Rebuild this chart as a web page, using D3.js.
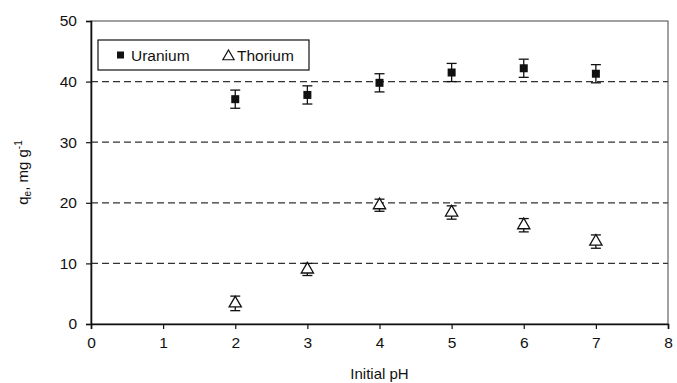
<!DOCTYPE html>
<html><head><meta charset="utf-8">
<script src="https://cdn.jsdelivr.net/npm/d3@7"></script>
<style>body{margin:0;background:#fff}svg{display:block;font-family:"Liberation Sans",Arial,sans-serif}</style>
</head><body><svg width="677" height="383"></svg>
<script>
const phValues = [2, 3, 4, 5, 6, 7];
const uranium = [37.1, 37.8, 39.8, 41.5, 42.2, 41.3];
const uraniumErr = [1.5, 1.5, 1.5, 1.5, 1.5, 1.5];
const thorium = [3.4, 9.0, 19.6, 18.4, 16.3, 13.6];
const thoriumErr = [1.2, 1.0, 1.0, 1.1, 1.1, 1.1];
const xTicks = [0, 1, 2, 3, 4, 5, 6, 7, 8];
const yTicks = [0, 10, 20, 30, 40, 50];
const gridValues = [10, 20, 30, 40];

const svg = d3.select("svg");
const L = 91, R = 668, T = 21, B = 324;
const x = d3.scaleLinear().domain([0, 8]).range([L, R]);
const y = d3.scaleLinear().domain([0, 50]).range([B, T]);

// grid
svg.append("g").selectAll("line").data(gridValues).join("line")
  .attr("x1", L).attr("x2", R).attr("y1", d => y(d)).attr("y2", d => y(d))
  .attr("stroke", "#333").attr("stroke-width", 1.2).attr("stroke-dasharray", "7,4");

// frame
svg.append("rect").attr("x", L).attr("y", T).attr("width", R - L).attr("height", B - T)
  .attr("fill", "none").attr("stroke", "#444").attr("stroke-width", 1);

const xAxis = svg.append("g").attr("transform", `translate(0,${B})`)
  .call(d3.axisBottom(x).tickValues(xTicks).tickSize(5).tickPadding(8).tickFormat(d3.format("d")));
const yAxis = svg.append("g").attr("transform", `translate(${L},0)`)
  .call(d3.axisLeft(y).tickValues(yTicks).tickSize(5).tickPadding(9).tickFormat(d3.format("d")));
[xAxis, yAxis].forEach(a => {
  a.select(".domain").attr("stroke", "#111").attr("stroke-width", 1.6);
  a.selectAll(".tick line").attr("stroke", "#111").attr("stroke-width", 1.2);
  a.selectAll("text").attr("font-size", 15.5).attr("fill", "#111")
    .attr("font-family", "'Liberation Sans', Arial, sans-serif");
});

// error bars
function errBars(vals, errs) {
  const g = svg.append("g");
  const d = phValues.map((p, i) => ({p, v: vals[i], e: errs[i]}));
  g.selectAll("line.v").data(d).join("line")
    .attr("x1", d => x(d.p)).attr("x2", d => x(d.p))
    .attr("y1", d => y(d.v + d.e)).attr("y2", d => y(d.v - d.e))
    .attr("stroke", "#111").attr("stroke-width", 1.3);
  ["t", "b"].forEach(s => {
    g.selectAll("line.c" + s).data(d).join("line")
      .attr("x1", d => x(d.p) - 5).attr("x2", d => x(d.p) + 5)
      .attr("y1", d => y(s === "t" ? d.v + d.e : d.v - d.e))
      .attr("y2", d => y(s === "t" ? d.v + d.e : d.v - d.e))
      .attr("stroke", "#111").attr("stroke-width", 1.3);
  });
}
errBars(uranium, uraniumErr);
errBars(thorium, thoriumErr);

// uranium squares
svg.append("g").selectAll("rect").data(phValues.map((p, i) => ({p, v: uranium[i]}))).join("rect")
  .attr("x", d => x(d.p) - 4).attr("y", d => y(d.v) - 4).attr("width", 8).attr("height", 8)
  .attr("fill", "#111");

// thorium triangles
const tri = d3.symbol().type(d3.symbolTriangle).size(65);
svg.append("g").selectAll("path").data(phValues.map((p, i) => ({p, v: thorium[i]}))).join("path")
  .attr("d", tri).attr("transform", d => `translate(${x(d.p)},${y(d.v)})`)
  .attr("fill", "#fff").attr("stroke", "#111").attr("stroke-width", 1.3);

// legend
const lg = svg.append("g");
lg.append("rect").attr("x", 98).attr("y", 40).attr("width", 211).attr("height", 30)
  .attr("fill", "#fff").attr("stroke", "#111").attr("stroke-width", 1.2);
lg.append("rect").attr("x", 117).attr("y", 51.5).attr("width", 7).attr("height", 7).attr("fill", "#111");
lg.append("text").attr("x", 131).attr("y", 61).attr("font-size", 15.5).attr("fill", "#111").text("Uranium");
lg.append("path").attr("d", d3.symbol().type(d3.symbolTriangle).size(55))
  .attr("transform", "translate(228.5,56.5)").attr("fill", "#fff").attr("stroke", "#111").attr("stroke-width", 1.2);
lg.append("text").attr("x", 237).attr("y", 61).attr("font-size", 15.5).attr("fill", "#111").text("Thorium");

// axis labels
svg.append("text").attr("x", (L + R) / 2).attr("y", 379).attr("text-anchor", "middle")
  .attr("font-size", 15).attr("fill", "#111").text("Initial pH");
const yl = svg.append("text").attr("transform", `translate(28,${(T + B) / 2}) rotate(-90)`)
  .attr("text-anchor", "middle").attr("font-size", 15).attr("fill", "#111");
yl.append("tspan").text("q");
yl.append("tspan").attr("font-size", 10).attr("dy", 3).text("e");
yl.append("tspan").attr("dy", -3).text(", mg g");
yl.append("tspan").attr("font-size", 10).attr("dy", -6).text("-1");
</script></body></html>
